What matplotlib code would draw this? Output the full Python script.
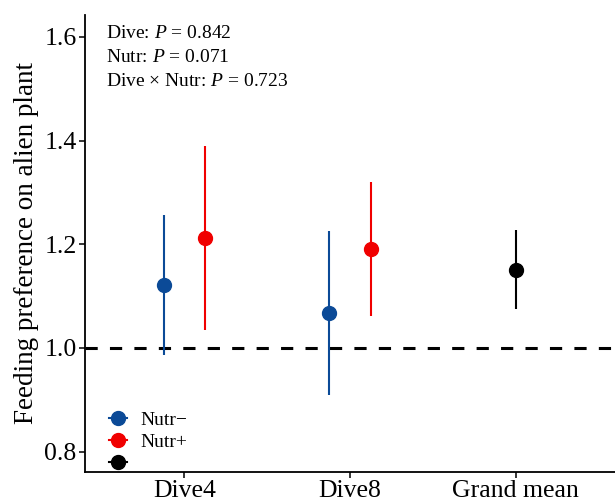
import matplotlib
matplotlib.use("Agg")
import matplotlib.pyplot as plt
from matplotlib.lines import Line2D
import numpy as np

plt.rcParams['font.family'] = ['Liberation Serif', 'DejaVu Serif']
plt.rcParams['mathtext.fontset'] = 'custom'
plt.rcParams['mathtext.rm'] = 'Liberation Serif'
plt.rcParams['mathtext.it'] = 'Liberation Serif:italic'

groups = ["Dive4", "Dive8", "Grand mean"]

# Nutr- and Nutr+ means with lower / upper interval ends
minus_mean = [1.122, 1.067]
minus_low = [0.987, 0.910]
minus_high = [1.256, 1.226]

plus_mean = [1.213, 1.191]
plus_low = [1.035, 1.061]
plus_high = [1.390, 1.320]

grand_mean = [1.151]
grand_low = [1.075]
grand_high = [1.228]

stats_text = ["Dive: $P$ = 0.842", "Nutr: $P$ = 0.071", "Dive × Nutr: $P$ = 0.723"]

blue = "#0B4A97"
red = "#F00000"
dodge = 0.125

fig = plt.figure(figsize=(6.15, 5.04), dpi=100)
ax = fig.add_axes([85 / 615, 32.3 / 504, 530 / 615, 456.7 / 504])

x = np.arange(1, len(groups) + 1)

def draw(xs, mean, low, high, color):
    mean = np.array(mean)
    yerr = [mean - np.array(low), np.array(high) - mean]
    ax.errorbar(xs, mean, yerr=yerr, fmt='o', color=color, ecolor=color,
                markersize=10, elinewidth=1.5, capsize=0, zorder=3)

ax.axhline(1.0, color='black', lw=2.2, ls=(0, (4, 4)), zorder=1)

draw(x[:2] - dodge, minus_mean, minus_low, minus_high, blue)
draw(x[:2] + dodge, plus_mean, plus_low, plus_high, red)
draw(x[2:], grand_mean, grand_low, grand_high, 'black')

ax.set_xlim(0.4, 3.6)
ax.set_ylim(0.7615, 1.642)
ax.set_xticks(x)
ax.set_xticklabels(groups, fontsize=18.5)
ax.set_yticks([0.8, 1.0, 1.2, 1.4, 1.6])
ax.set_yticklabels(["0.8", "1.0", "1.2", "1.4", "1.6"], fontsize=18.5)
ax.set_ylabel("Feeding preference on alien plant", fontsize=19.5, labelpad=4)
ax.tick_params(direction='out', length=4, width=1.1, color='black', pad=2)

for s in ['top', 'right']:
    ax.spines[s].set_visible(False)
for s in ['left', 'bottom']:
    ax.spines[s].set_linewidth(1.3)
    ax.spines[s].set_color('black')

for i, t in enumerate(stats_text):
    ax.text(0.04, 0.96 - i * 0.053, t, transform=ax.transAxes, fontsize=14,
            va='center', ha='left')

handles = [
    Line2D([], [], color=blue, marker='o', markersize=10, lw=1.5),
    Line2D([], [], color=red, marker='o', markersize=10, lw=1.5),
    Line2D([], [], color='black', marker='o', markersize=10, lw=1.5),
]
ax.legend(handles, ["Nutr\u2212", "Nutr+", ""], loc='lower left',
          bbox_to_anchor=(0.0455, -0.003), frameon=False, fontsize=14,
          handlelength=0.9, handletextpad=0.69, labelspacing=0.22,
          borderpad=0, borderaxespad=0)

fig.savefig("out.png", dpi=100)
